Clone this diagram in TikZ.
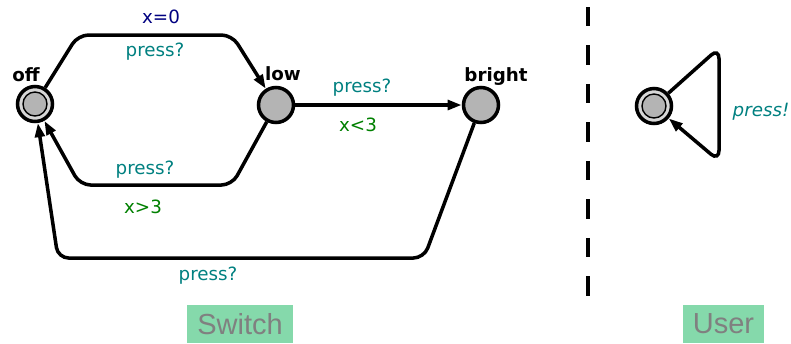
\documentclass[tikz,border=0pt]{standalone}
\usepackage{fontspec}
\setmainfont{DejaVu Sans}
\newfontfamily\boxfont{Liberation Sans}
\usetikzlibrary{arrows.meta}

\definecolor{syncol}{RGB}{0,128,128}
\definecolor{guardcol}{RGB}{0,128,0}
\definecolor{updcol}{RGB}{0,0,128}
\definecolor{boxgreen}{RGB}{133,217,171}
\definecolor{locgray}{RGB}{180,180,180}
\definecolor{ringgray}{RGB}{215,215,215}

\begin{document}
\begin{tikzpicture}[
  x=0.02cm, y=-0.02cm,
  font=\fontsize{10.4}{12}\selectfont,
  loc/.style = {circle, draw, line width=2pt, fill=locgray, minimum size=0.7cm, inner sep=0pt},
  initloc/.style = {loc, fill=ringgray, path picture={
      \draw[line width=0.8pt, fill=locgray] (path picture bounding box.center) circle (0.24cm);}},
  locname/.style = {font=\fontsize{10.4}{12}\selectfont\bfseries},
  edge/.style = {line width=2pt, rounded corners=6pt, -{Triangle[length=8pt,width=5.5pt]}},
  sync/.style = {text=syncol},
  guard/.style = {text=guardcol},
  upd/.style = {text=updcol},
  tmpl/.style = {fill=boxgreen, text=gray, font=\boxfont\fontsize{16.5}{18}\selectfont, minimum height=0.76cm, inner sep=0pt}
]
  \useasboundingbox (0,0) rectangle (791,343);

  % Switch locations
  \node[initloc] (off) at (35,104) {};
  \node[loc] (low) at (276,105) {};
  \node[loc] (bright) at (481,105) {};
  \node[locname] (offname) at (26,75) {off};
  \node[locname] (lowname) at (283,74) {low};
  \node[locname] (brightname) at (496,77) {bright};

  % off -> low
  \draw[edge] (off) -- (78,35) -- (232,35) -- (low);
  \node[upd] (upd1) at (161,17) {x=0};
  \node[sync] (sync1) at (155,52) {press?};

  % low -> off
  \draw[edge] (low) -- (232,185) -- (80,185) -- (off);
  \node[sync] (sync2) at (145,170) {press?};
  \node[guard] (guard2) at (143,207) {x>3};

  % low -> bright
  \draw[edge] (low) -- (bright);
  \node[sync] (sync3) at (362,88) {press?};
  \node[guard] (guard3) at (358,125) {x<3};

  % bright -> off
  \draw[edge] (bright) -- (424,258) -- (58,258) -- (off);
  \node[sync] (sync4) at (208,276) {press?};

  % separator
  \draw[line width=2pt, dash pattern=on 11pt off 10.9pt] (588,7) -- (588,296);

  % User
  \node[initloc] (idle) at (654,106) {};
  \draw[edge] (idle) -- (719,48) -- (719,161) -- (idle);
  \node[sync, font=\fontsize{10.4}{12}\selectfont\itshape] (sync5) at (761,112) {press!};

  % template names
  \node[tmpl, minimum width=2.12cm] (switchname) at (240,324) {Switch};
  \node[tmpl, minimum width=1.62cm] (username) at (723.5,324) {User};
\end{tikzpicture}
\end{document}
